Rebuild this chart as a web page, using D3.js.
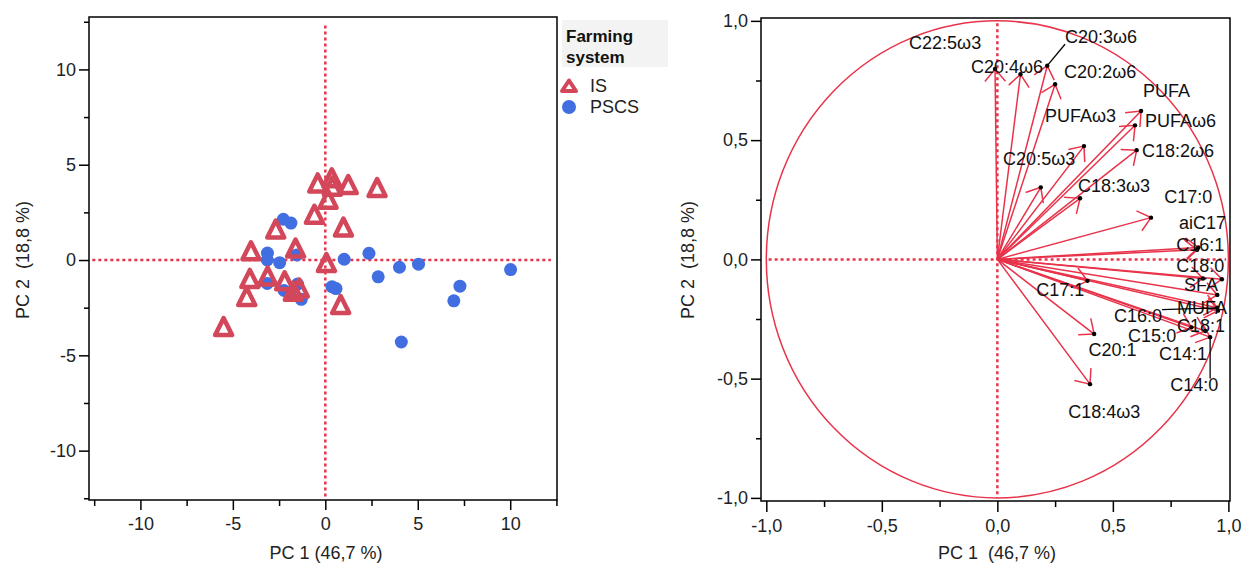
<!DOCTYPE html>
<html>
<head>
<meta charset="utf-8">
<script src="https://cdn.jsdelivr.net/npm/d3@7"></script>
<style>
  body { margin: 0; background: #fff; }
  svg { display: block; font-family: "Liberation Sans", Arial, sans-serif; }
  text { white-space: pre; }
</style>
</head>
<body>
<svg id="chart" width="1242" height="563"></svg>
<script>
// ---- scores (left panel) ----
var isX = [-0.41, 0.35, 0.38, 1.24, 2.80, 0.15, -0.59, 0.98, -2.68, -4.02, -1.61, 0.06, -3.12, -4.08, -2.20, -1.41, -1.73, -4.25, 0.83, -5.50];
var isY = [4.02, 4.29, 3.85, 3.93, 3.78, 3.16, 2.37, 1.70, 1.60, 0.46, 0.60, -0.16, -0.86, -0.99, -1.12, -1.50, -1.66, -1.94, -2.36, -3.52];
var pscsX = [-2.27, -1.86, -3.13, -3.14, -2.47, -1.54, 1.02, 2.36, 2.86, 4.01, 5.04, 7.28, 6.95, 4.11, 0.36, 0.58, -3.14, -2.23, -1.90, -1.50, -1.30, 10.02];
var pscsY = [2.14, 1.94, 0.37, 0.00, -0.14, 0.27, 0.04, 0.35, -0.88, -0.38, -0.22, -1.37, -2.14, -4.30, -1.40, -1.50, -1.23, -1.60, -1.85, -1.26, -2.06, -0.50];
var scoreTicks = [-10, -5, 0, 5, 10];
var scoreMinor = [-12.5, -7.5, -2.5, 2.5, 7.5, 12.5];

// ---- loadings (right panel) ----
var varNames = ["C22:5ω3", "C20:4ω6", "C20:3ω6", "C20:2ω6", "PUFA", "PUFAω6", "PUFAω3", "C18:2ω6",
  "C20:5ω3", "C18:3ω3", "C17:0", "aiC17", "C16:1", "C18:0", "SFA", "MUFA", "C16:0", "C18:1",
  "C15:0", "C14:1", "C14:0", "C17:1", "C20:1", "C18:4ω3"];
var load1 = [-0.01, 0.10, 0.216, 0.25, 0.622, 0.596, 0.375, 0.603, 0.188, 0.358, 0.665, 0.87, 0.865,
  0.89, 0.972, 0.952, 0.952, 0.955, 0.84, 0.90, 0.921, 0.39, 0.419, 0.401];
var load2 = [0.798, 0.776, 0.812, 0.734, 0.622, 0.562, 0.475, 0.458, 0.302, 0.256, 0.175, 0.05, 0.04,
  -0.08, -0.083, -0.149, -0.203, -0.215, -0.285, -0.30, -0.326, -0.09, -0.313, -0.523];
// label anchors, in PC units (left edge, baseline)
var labX = [-0.382, -0.114, 0.293, 0.289, 0.63, 0.639, 0.206, 0.626, 0.025, 0.349, 0.722, 0.786, 0.774,
  0.774, 0.808, 0.778, 0.505, 0.778, 0.566, 0.70, 0.748, 0.168, 0.395, 0.307];
var labY = [0.884, 0.780, 0.906, 0.759, 0.680, 0.557, 0.574, 0.431, 0.397, 0.284, 0.235, 0.126, 0.037,
  -0.055, -0.131, -0.230, -0.261, -0.303, -0.345, -0.420, -0.550, -0.152, -0.403, -0.663];
var leaderVars = ["C20:3ω6", "C16:0", "C14:0"];
var loadTicks = [-1, -0.5, 0, 0.5, 1];
var loadMinor = [-0.75, -0.25, 0.25, 0.75];

var red = "#e8334a", triRed = "#d3475a", blue = "#416ee0";
var svg = d3.select("#chart");
var comma = function(d) { return d.toFixed(1).replace(".", ","); };

// ================= left: score plot =================
var x = d3.scaleLinear().domain([-12.78, 12.53]).range([89, 557]);
var y = d3.scaleLinear().domain([-12.59, 12.75]).range([500, 17]);
var left = svg.append("g");

function axes(g, xs, ys, major, minor, fmt, xsz, xpad) {
  var ax = g.append("g").attr("transform", "translate(0," + ys.range()[0] + ")")
    .call(d3.axisBottom(xs).tickValues(major).tickSize(xsz).tickPadding(xpad).tickFormat(fmt));
  g.append("g").attr("transform", "translate(0," + ys.range()[0] + ")")
    .call(d3.axisBottom(xs).tickValues(minor).tickSize(6).tickFormat(""));
  var ay = g.append("g").attr("transform", "translate(" + xs.range()[0] + ",0)")
    .call(d3.axisLeft(ys).tickValues(major).tickSize(10).tickPadding(3).tickFormat(fmt));
  g.append("g").attr("transform", "translate(" + xs.range()[0] + ",0)")
    .call(d3.axisLeft(ys).tickValues(minor).tickSize(5).tickFormat(""));
  g.selectAll(".domain").remove();
  g.selectAll(".tick line").attr("stroke", "#000").attr("stroke-width", 1.5);
  g.selectAll(".tick text").attr("font-size", 18).attr("fill", "#222")
    .attr("font-family", "Liberation Sans, Arial, sans-serif");
  g.append("rect").attr("x", xs.range()[0]).attr("y", ys.range()[1])
    .attr("width", xs.range()[1] - xs.range()[0]).attr("height", ys.range()[0] - ys.range()[1])
    .attr("fill", "none").attr("stroke", "#000").attr("stroke-width", 1.5);
}

axes(left, x, y, scoreTicks, scoreMinor, function(d) { return String(d); }, 10, 7);

left.append("line").attr("x1", x(0)).attr("x2", x(0)).attr("y1", y(12.3)).attr("y2", y(-12.55))
  .attr("stroke", red).attr("stroke-width", 2.5).attr("stroke-dasharray", "3,3");
left.append("line").attr("x1", x(-12.6)).attr("x2", x(12.2)).attr("y1", y(0)).attr("y2", y(0))
  .attr("stroke", red).attr("stroke-width", 2.5).attr("stroke-dasharray", "3,3");

var triPath = "M0,-9L8.5,8L-8.5,8Z";
left.append("g").selectAll("circle").data(d3.range(pscsX.length)).join("circle")
  .attr("cx", function(i) { return x(pscsX[i]); })
  .attr("cy", function(i) { return y(pscsY[i]); })
  .attr("r", 6.5).attr("fill", blue);
left.append("g").selectAll("path").data(d3.range(isX.length)).join("path")
  .attr("d", triPath)
  .attr("transform", function(i) { return "translate(" + x(isX[i]) + "," + y(isY[i]) + ")"; })
  .attr("fill", "none").attr("stroke", triRed).attr("stroke-width", 4.5).attr("stroke-linejoin", "round");

left.append("text").attr("x", 326).attr("y", 559).attr("text-anchor", "middle")
  .attr("font-size", 18).attr("fill", "#222").text("PC 1 (46,7 %)");
left.append("text").attr("transform", "translate(29,260) rotate(-90)").attr("text-anchor", "middle")
  .attr("font-size", 18).attr("fill", "#222").text("PC 2  (18,8 %)");

// legend
var lg = svg.append("g");
lg.append("rect").attr("x", 562).attr("y", 20).attr("width", 106).attr("height", 47).attr("fill", "#f3f3f3");
lg.append("text").attr("x", 566).attr("y", 42).attr("font-size", 17).attr("font-weight", "bold")
  .attr("fill", "#111").text("Farming");
lg.append("text").attr("x", 566).attr("y", 63).attr("font-size", 17).attr("font-weight", "bold")
  .attr("fill", "#111").text("system");
lg.append("path").attr("d", "M0,-5.5L7,5L-7,5Z").attr("transform", "translate(569,86)")
  .attr("fill", "none").attr("stroke", triRed).attr("stroke-width", 4).attr("stroke-linejoin", "round");
lg.append("circle").attr("cx", 569).attr("cy", 107).attr("r", 7).attr("fill", blue);
lg.append("text").attr("x", 590).attr("y", 92).attr("font-size", 18).attr("fill", "#222").text("IS");
lg.append("text").attr("x", 590).attr("y", 113).attr("font-size", 18).attr("fill", "#222").text("PSCS");

// ================= right: loading plot =================
var xr = d3.scaleLinear().domain([-1.023, 1.007]).range([761, 1230]);
var yr = d3.scaleLinear().domain([-1.013, 1.012]).range([501, 18]);
var right = svg.append("g");
axes(right, xr, yr, loadTicks, loadMinor, comma, 11, 7);

right.append("line").attr("x1", xr(0)).attr("x2", xr(0)).attr("y1", yr(0.99)).attr("y2", yr(-1))
  .attr("stroke", red).attr("stroke-width", 2.5).attr("stroke-dasharray", "3,3");
right.append("line").attr("x1", xr(-0.99)).attr("x2", xr(0.99)).attr("y1", yr(0)).attr("y2", yr(0))
  .attr("stroke", red).attr("stroke-width", 2.5).attr("stroke-dasharray", "3,3");

right.append("ellipse").attr("cx", xr(0)).attr("cy", yr(0))
  .attr("rx", xr(1) - xr(0)).attr("ry", yr(0) - yr(1))
  .attr("fill", "none").attr("stroke", red).attr("stroke-width", 1.5);

var ox = xr(0), oy = yr(0), head = 16, spread = 0.7;
right.append("g").selectAll("path").data(d3.range(varNames.length)).join("path")
  .attr("d", function(i) {
    var tx = xr(load1[i]), ty = yr(load2[i]);
    var back = Math.atan2(ty - oy, tx - ox) + Math.PI;
    return "M" + ox + "," + oy + "L" + tx + "," + ty +
      "M" + (tx + head * Math.cos(back + spread)) + "," + (ty + head * Math.sin(back + spread)) +
      "L" + tx + "," + ty +
      "L" + (tx + head * Math.cos(back - spread)) + "," + (ty + head * Math.sin(back - spread));
  })
  .attr("fill", "none").attr("stroke", red).attr("stroke-width", 1.5);

right.append("g").selectAll("circle").data(d3.range(varNames.length)).join("circle")
  .attr("cx", function(i) { return xr(load1[i]); })
  .attr("cy", function(i) { return yr(load2[i]); })
  .attr("r", 2.2).attr("fill", "#000");

var labels = right.append("g").selectAll("text").data(d3.range(varNames.length)).join("text")
  .attr("x", function(i) { return xr(labX[i]); })
  .attr("y", function(i) { return yr(labY[i]); })
  .attr("font-size", 18).attr("fill", "#111")
  .text(function(i) { return varNames[i]; });

labels.each(function(i) {
  if (leaderVars.indexOf(varNames[i]) < 0) return;
  var b = this.getBBox();
  var px = xr(load1[i]), py = yr(load2[i]);
  var qx = Math.max(b.x, Math.min(px, b.x + b.width));
  var qy = Math.max(b.y + 4, Math.min(py, b.y + b.height - 3));
  right.append("line").attr("x1", px).attr("y1", py).attr("x2", qx).attr("y2", qy)
    .attr("stroke", "#000").attr("stroke-width", 1.3);
});

right.append("text").attr("x", 997).attr("y", 559).attr("text-anchor", "middle")
  .attr("font-size", 18).attr("fill", "#222").text("PC 1  (46,7 %)");
right.append("text").attr("transform", "translate(694,260) rotate(-90)").attr("text-anchor", "middle")
  .attr("font-size", 18).attr("fill", "#222").text("PC 2  (18,8 %)");
</script>
</body>
</html>
